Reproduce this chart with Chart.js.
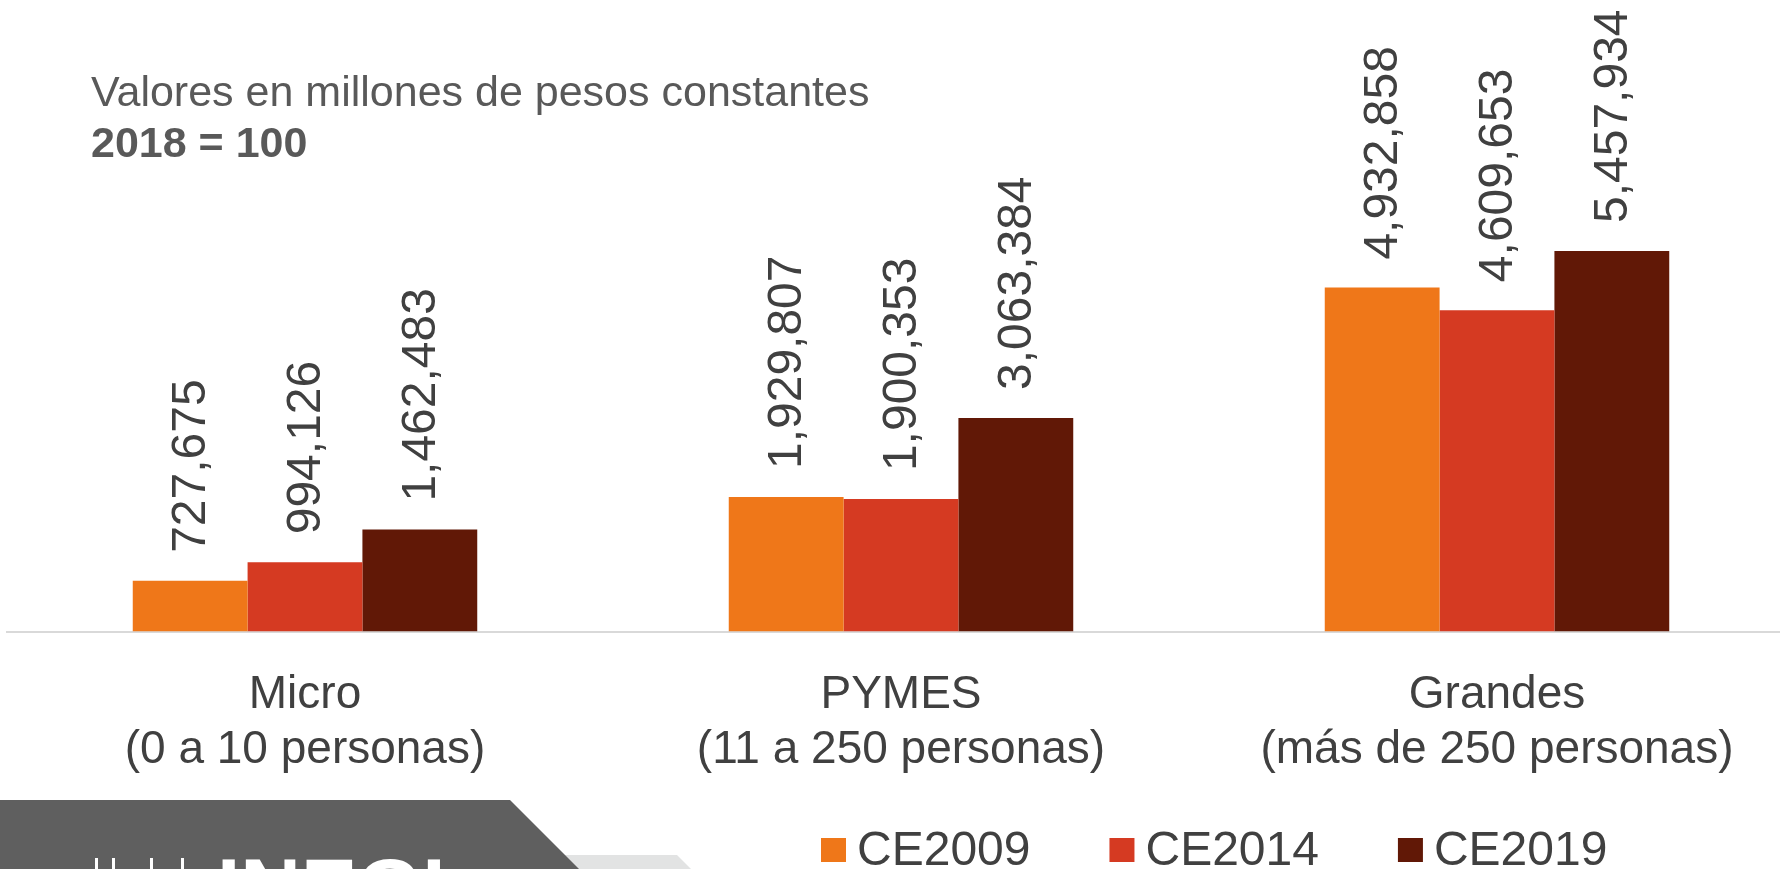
<!DOCTYPE html>
<html>
<head>
<meta charset="utf-8">
<script src="https://cdn.jsdelivr.net/npm/chart.js@4/dist/chart.umd.min.js"></script>
<style>
  html, body { margin: 0; padding: 0; background: #fff; overflow: hidden; }
  #wrap { width: 1780px; height: 869px; overflow: hidden; }
</style>
</head>
<body>
<div id="wrap"><canvas id="chart" width="1800" height="869"></canvas></div>
<script>
var categories = [
  ['Micro', '(0 a 10 personas)'],
  ['PYMES', '(11 a 250 personas)'],
  ['Grandes', '(más de 250 personas)']
];
var seriesNames = ['CE2009', 'CE2014', 'CE2019'];
var ce2009 = [727675, 1929807, 4932858];
var ce2014 = [994126, 1900353, 4609653];
var ce2019 = [1462483, 3063384, 5457934];
var colors = ['#EF7719', '#D53A22', '#611806'];

var textColor = '#404040';
var fontFamily = '"Liberation Sans", Arial, sans-serif';

var formatNumber = function (v) {
  return Number(v).toLocaleString('en-US');
};

// decoration: heading, logo band, legend and rotated value labels
var decorPlugin = {
  id: 'decor',
  afterDatasetsDraw: function (chart) {
    var ctx = chart.ctx;
    ctx.save();

    // value labels, rotated, above each bar
    ctx.font = '48px ' + fontFamily;
    ctx.fillStyle = textColor;
    ctx.textAlign = 'left';
    ctx.textBaseline = 'middle';
    chart.data.datasets.forEach(function (ds, i) {
      var meta = chart.getDatasetMeta(i);
      meta.data.forEach(function (bar, j) {
        ctx.save();
        ctx.translate(bar.x, bar.y - 28);
        ctx.rotate(-Math.PI / 2);
        ctx.fillText(formatNumber(ds.data[j]), 0, 2);
        ctx.restore();
      });
    });

    // heading
    ctx.textBaseline = 'alphabetic';
    ctx.fillStyle = '#595959';
    ctx.font = '43px ' + fontFamily;
    ctx.fillText('Valores en millones de pesos constantes', 91, 106);
    ctx.font = 'bold 43px ' + fontFamily;
    ctx.fillText('2018 = 100', 91, 157);

    // logo band in the lower left corner
    ctx.fillStyle = '#e2e3e3';
    ctx.beginPath();
    ctx.moveTo(555, 855);
    ctx.lineTo(677, 855);
    ctx.lineTo(691, 869);
    ctx.lineTo(569, 869);
    ctx.closePath();
    ctx.fill();
    ctx.fillStyle = '#5f5f5f';
    ctx.beginPath();
    ctx.moveTo(0, 800);
    ctx.lineTo(510, 800);
    ctx.lineTo(579, 869);
    ctx.lineTo(0, 869);
    ctx.closePath();
    ctx.fill();
    ctx.fillStyle = '#ffffff';
    ctx.font = 'bold 84px ' + fontFamily;
    ctx.fillText('INEGI', 217, 917);
    [95, 112, 150, 181].forEach(function (x) {
      ctx.fillRect(x, 858, 3, 11);
    });

    // legend
    var x = 821;
    ctx.font = '48px ' + fontFamily;
    chart.data.datasets.forEach(function (ds) {
      ctx.fillStyle = ds.backgroundColor;
      ctx.fillRect(x, 838, 25, 24);
      ctx.fillStyle = textColor;
      ctx.fillText(ds.label, x + 36, 865);
      x += 36 + ctx.measureText(ds.label).width + 79;
    });

    ctx.restore();
  }
};

new Chart(document.getElementById('chart'), {
  type: 'bar',
  data: {
    labels: categories,
    datasets: [
      { label: seriesNames[0], data: ce2009, backgroundColor: colors[0] },
      { label: seriesNames[1], data: ce2014, backgroundColor: colors[1] },
      { label: seriesNames[2], data: ce2019, backgroundColor: colors[2] }
    ]
  },
  options: {
    responsive: false,
    animation: false,
    categoryPercentage: 0.578,
    barPercentage: 1,
    layout: {
      padding: { left: 7, right: 5, top: 4, bottom: 63 }
    },
    plugins: {
      legend: { display: false },
      tooltip: { enabled: false }
    },
    scales: {
      x: {
        grid: { display: false },
        border: { display: true, color: '#d9d9d9', width: 2 },
        ticks: {
          color: textColor,
          font: { family: fontFamily, size: 46, lineHeight: 1.2 },
          padding: 28,
          maxRotation: 0,
          minRotation: 0,
          autoSkip: false
        }
      },
      y: {
        display: false,
        min: 0,
        max: 9000000
      }
    }
  },
  plugins: [decorPlugin]
});
</script>
</body>
</html>
